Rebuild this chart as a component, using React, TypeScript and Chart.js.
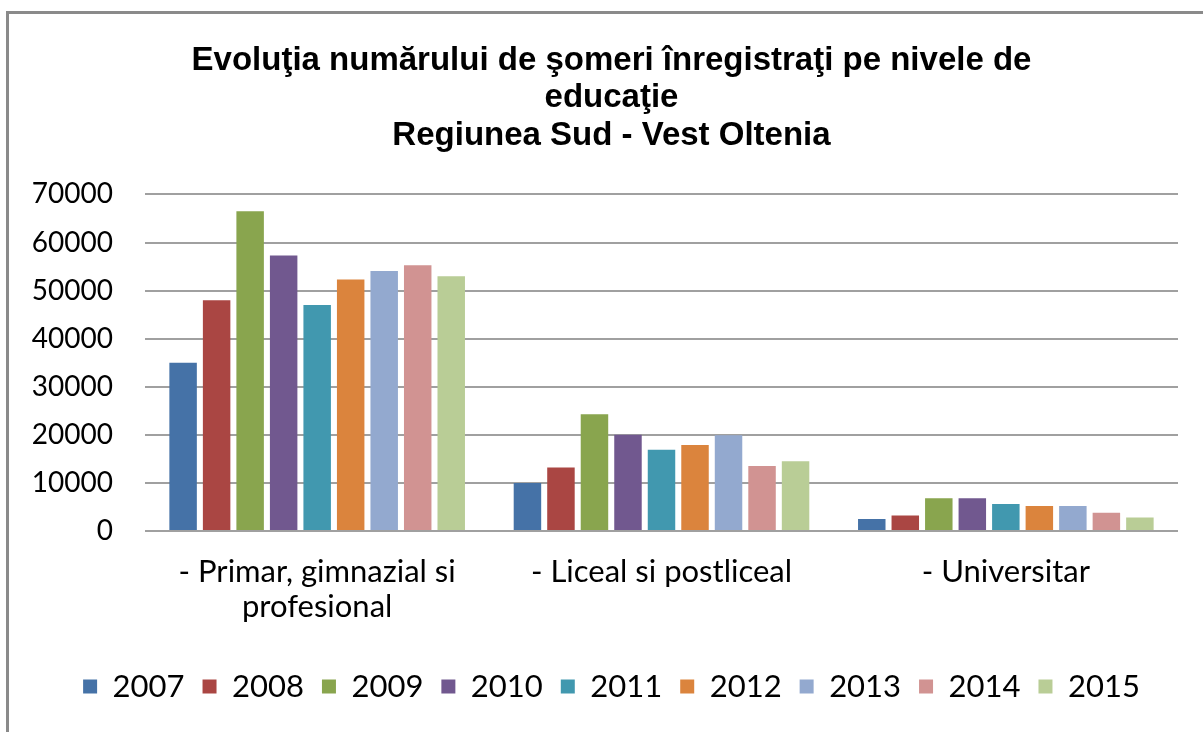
import React, { useEffect, useRef } from "react";
import { Chart, registerables } from "chart.js";

Chart.register(...registerables);

const titleLines = [
  "Evoluţia numărului de şomeri înregistraţi pe nivele de",
  "educaţie",
  "Regiunea Sud - Vest Oltenia",
];

const categories: (string | string[])[] = [
  ["- Primar, gimnazial si", "profesional"],
  "- Liceal si postliceal",
  "- Universitar",
];

const years = ["2007", "2008", "2009", "2010", "2011", "2012", "2013", "2014", "2015"];

const values2007 = [35000, 10000, 2500];
const values2008 = [48000, 13200, 3200];
const values2009 = [66500, 24300, 6800];
const values2010 = [57300, 20000, 6800];
const values2011 = [47000, 16900, 5600];
const values2012 = [52300, 17900, 5200];
const values2013 = [54100, 19900, 5200];
const values2014 = [55300, 13500, 3800];
const values2015 = [53000, 14500, 2800];

const seriesValues = [
  values2007, values2008, values2009, values2010, values2011,
  values2012, values2013, values2014, values2015,
];

const seriesColors = [
  "#4572A7", "#AA4643", "#89A54E", "#71588F", "#4198AF",
  "#DB843D", "#93A9CF", "#D19392", "#B9CD96",
];

const yMin = 0;
const yMax = 70000;
const yStep = 10000;

const bodyFont = "Lato, 'Open Sans', sans-serif";

export default function App() {
  const canvasRef = useRef<HTMLCanvasElement | null>(null);

  useEffect(() => {
    const canvas = canvasRef.current;
    if (!canvas) return;
    const chart = new Chart(canvas, {
      type: "bar",
      data: {
        labels: categories,
        datasets: years.map((y, i) => ({
          label: y,
          data: seriesValues[i],
          backgroundColor: seriesColors[i],
          borderWidth: 0,
          categoryPercentage: 0.876,
          barPercentage: 0.82,
          yAxisID: "y",
        })),
      },
      options: {
        responsive: false,
        animation: false,
        layout: { padding: { left: 20, right: 0, top: 42, bottom: 20 } },
        plugins: {
          title: {
            display: true,
            text: titleLines,
            color: "#000",
            font: { family: "'Liberation Sans', Arial, sans-serif", size: 33, weight: "bold", lineHeight: 1.136 },
            padding: { top: 0, bottom: 40 },
          },
          legend: {
            display: true,
            position: "bottom",
            labels: {
              boxWidth: 14,
              boxHeight: 14,
              color: "#000",
              padding: 18,
              font: { family: bodyFont, size: 31 },
            },
          },
          tooltip: { enabled: false },
        },
        scales: {
          x: {
            grid: { display: false, drawTicks: false },
            border: { display: false },
            ticks: {
              color: "#000",
              font: { family: bodyFont, size: 31, lineHeight: 1.13 },
              padding: 23,
              maxRotation: 0,
              autoSkip: false,
            },
            afterFit: (scale: any) => {
              scale.height = 122;
            },
          },
          y: {
            position: "left",
            min: yMin,
            max: yMax,
            grid: { color: "#a0a0a0", lineWidth: 2, drawTicks: false },
            border: { display: false },
            ticks: {
              stepSize: yStep,
              color: "#000",
              font: { family: bodyFont, size: 28 },
              padding: 32,
              callback: (value: any) => String(value),
            },
            afterFit: (scale: any) => {
              scale.width = 125;
            },
          },
          yRightSpacer: {
            position: "right",
            min: yMin,
            max: yMax,
            grid: { display: false, drawTicks: false },
            border: { display: false },
            ticks: { display: false },
            afterFit: (scale: any) => {
              scale.width = 25;
            },
          },
        },
      },
    });
    return () => chart.destroy();
  }, []);

  return (
    <div
      style={{
        position: "fixed",
        left: 0,
        top: 0,
        width: 1203,
        height: 732,
        background: "#fff",
        overflow: "hidden",
      }}
    >
      <canvas
        ref={canvasRef}
        width={1203}
        height={732}
        style={{ position: "absolute", left: 0, top: 0, width: 1203, height: 732 }}
      />
      <div
        style={{
          position: "absolute",
          left: 6,
          top: 11,
          width: 1400,
          height: 1000,
          border: "3px solid #8a8a8a",
          pointerEvents: "none",
        }}
      />
    </div>
  );
}
